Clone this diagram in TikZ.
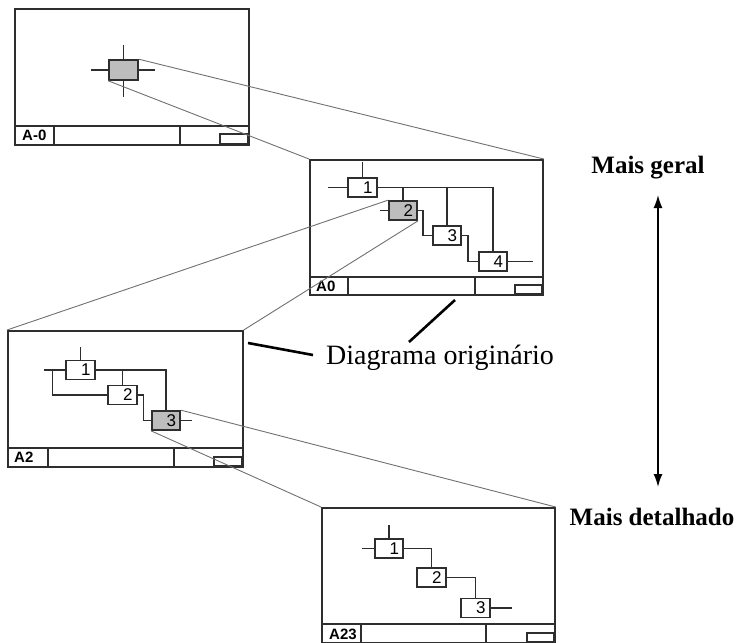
\documentclass[tikz,border=0pt]{standalone}
\usepackage{fontspec}
\setmainfont{Liberation Serif}
\newfontfamily\sansf{Liberation Sans}
\usetikzlibrary{arrows.meta}
\definecolor{ink}{HTML}{2E2E2E}
\definecolor{shade}{HTML}{BDBDBD}
\definecolor{zoomgray}{HTML}{707070}
\begin{document}
\begin{tikzpicture}[x=1pt,y=-1pt,
  sheet/.style={draw=ink, line width=1.7pt, anchor=north west, inner sep=0pt},
  sheetline/.style={draw=ink, line width=1.6pt},
  sheetlabel/.style={anchor=west, inner sep=0pt, font=\sansf\bfseries\fontsize{15}{15}\selectfont},
  func/.style={draw=ink, line width=1.6pt, fill=white, minimum width=28.5pt, minimum height=19pt,
    inner sep=0pt, text width=20pt, align=right, font=\sansf\fontsize{17}{17}\selectfont},
  picked/.style={fill=shade},
  wire/.style={draw=ink, line width=1.6pt},
  zoomline/.style={draw=zoomgray, line width=0.9pt},
  pointer/.style={draw=black, line width=2.6pt},
  level/.style={inner sep=0pt, font=\bfseries\fontsize{25}{25}\selectfont},
]
\useasboundingbox (0,0) rectangle (737,643);

% ---------- sheet A-0 ----------
\node[sheet, minimum width=234pt, minimum height=136pt] (F0) at (14,8) {};
\draw[sheetline] (14,126) -- (248,126) (54,126) -- (54,144) (180,126) -- (180,144);
\draw[sheetline] (220,144) rectangle (248,134);
\node[sheetlabel] (F0lab) at (22,135.5) {A-0};
\node[draw=ink, line width=1.6pt, fill=shade, minimum width=29pt, minimum height=20pt, inner sep=0pt] (top) at (123.5,70) {};
\draw[wire] (top.north) -- ++(0,-14);
\draw[wire] (top.south) -- ++(0,16);
\draw[wire] (top.west) -- ++(-17,0);
\draw[wire] (top.east) -- ++(16,0);

% ---------- sheet A0 ----------
\node[sheet, minimum width=233pt, minimum height=135pt] (F1) at (309,159) {};
\draw[sheetline] (309,277) -- (542,277) (348,277) -- (348,294) (475,277) -- (475,294);
\draw[sheetline] (515,294) rectangle (542,285);
\node[sheetlabel] (F1lab) at (316,286) {A0};
\node[func] (b1) at (362.5,187.5) {1};
\node[func, picked] (b2) at (403,210.5) {2};
\node[func] (b3) at (447,235.5) {3};
\node[func] (b4) at (493,261.5) {4};
\draw[wire] (b1.north) -- ++(0,-15);
\draw[wire] (b1.west) -- ++(-19,0);
\draw[wire] (b1.east) -| (b4.north);
\draw[wire] (b2.north) -- (b2.north |- b1.east);
\draw[wire] (b3.north) -- (b3.north |- b1.east);
\draw[wire] (b2.west) -- ++(-8,0);
\draw[wire] (b2.east) -- ++(5,0) |- (b3.west);
\draw[wire] (b3.east) -- ++(6,0) |- (b4.west);
\draw[wire] (b4.east) -- ++(25,0);

% ---------- sheet A2 ----------
\node[sheet, minimum width=235pt, minimum height=136pt] (F2) at (7,330) {};
\draw[sheetline] (7,448) -- (242,448) (48,448) -- (48,466) (174,448) -- (174,466);
\draw[sheetline] (214,466) rectangle (242,457);
\node[sheetlabel] (F2lab) at (14,457.5) {A2};
\node[func] (c1) at (80.5,370) {1};
\node[func] (c2) at (122.5,395) {2};
\node[func, picked] (c3) at (166,420.5) {3};
\draw[wire] (c1.north) -- ++(0,-13);
\draw[wire] (c1.west) -- ++(-21,0);
\draw[wire] (c1.west) ++(-13,0) |- (c2.west);
\draw[wire] (c1.east) -| (c3.north);
\draw[wire] (c2.north) -- (c2.north |- c1.east);
\draw[wire] (c2.east) -- ++(6,0) |- (c3.west);
\draw[wire] (c3.east) -- ++(11,0);

% ---------- sheet A23 ----------
\node[sheet, minimum width=233pt, minimum height=135pt] (F3) at (321,507) {};
\draw[sheetline] (321,624) -- (554,624) (361,624) -- (361,642) (486,624) -- (486,642);
\draw[sheetline] (527,642) rectangle (554,633);
\node[sheetlabel] (F3lab) at (329,634) {A23};
\node[func] (d1) at (389,548.5) {1};
\node[func] (d2) at (431.5,577.5) {2};
\node[func] (d3) at (475.5,608) {3};
\draw[wire] (d1.north) -- ++(0,-13);
\draw[wire] (d1.west) -- ++(-12,0);
\draw[wire] (d1.east) -| (d2.north);
\draw[wire] (d2.east) -| (d3.north);
\draw[wire] (d3.east) -- ++(21,0);

% ---------- zoom projections ----------
\draw[zoomline] (top.north east) -- (F1.north east);
\draw[zoomline] (top.south west) -- (F1.north west);
\draw[zoomline] (b2.north west) -- (F2.north west);
\draw[zoomline] (b2.south east) -- (F2.north east);
\draw[zoomline] (c3.north east) -- (F3.north east);
\draw[zoomline] (c3.south west) -- (F3.north west);

% ---------- annotations ----------
\node[inner sep=0pt, font=\fontsize{28}{28}\selectfont] (orig) at (440,358) {Diagrama originário};
\coordinate (p1a) at (248,343);
\coordinate (p1b) at (313,355);
\coordinate (p2a) at (455,300);
\coordinate (p2b) at (409,342);
\draw[pointer] (p1a) -- (p1b);
\draw[pointer] (p2a) -- (p2b);

\node[level] (geral) at (648,168) {Mais geral};
\node[level] (detal) at (652,517) {Mais detalhado};
\coordinate (scaleTop) at (658,195);
\coordinate (scaleBot) at (658,487);
\draw[line width=1.6pt, {Latex[length=13pt,width=9pt]}-{Latex[length=13pt,width=9pt]}] (scaleTop) -- (scaleBot);
\end{tikzpicture}
\end{document}
